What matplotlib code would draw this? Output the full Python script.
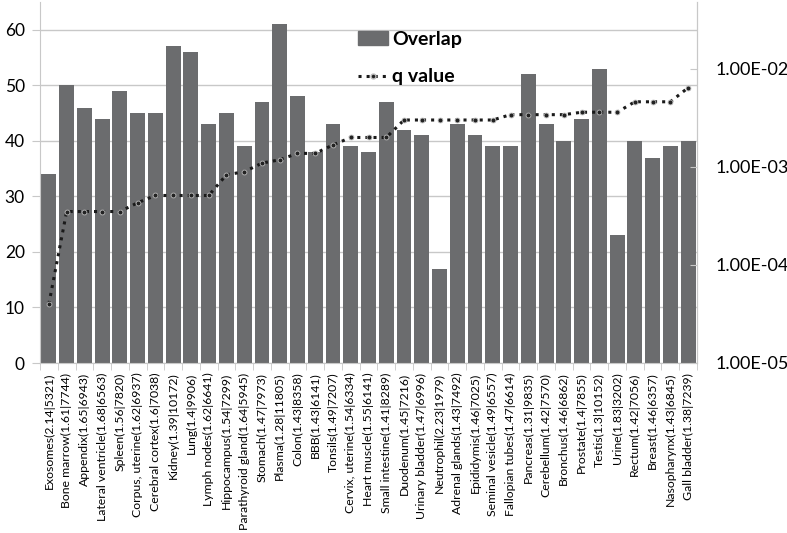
import numpy as np
import matplotlib
matplotlib.use("Agg")
import matplotlib.pyplot as plt
from matplotlib.lines import Line2D
from matplotlib.patches import Patch

plt.rcParams['font.family'] = ['Lato', 'DejaVu Sans']

# ===================== 数据 =====================
tissues = [
    "Exosomes(2.14|5321)", "Bone marrow(1.61|7744)", "Appendix(1.65|6943)",
    "Lateral ventricle(1.68|6563)", "Spleen(1.56|7820)", "Corpus, uterine(1.62|6937)",
    "Cerebral cortex(1.6|7038)", "Kidney(1.39|10172)", "Lung(1.4|9906)",
    "Lymph nodes(1.62|6641)", "Hippocampus(1.54|7299)", "Parathyroid gland(1.64|5945)",
    "Stomach(1.47|7973)", "Plasma(1.28|11805)", "Colon(1.43|8358)", "BBB(1.43|6141)",
    "Tonsils(1.49|7207)", "Cervix, uterine(1.54|6334)", "Heart muscle(1.55|6141)",
    "Small intestine(1.41|8289)", "Duodenum(1.45|7216)", "Urinary bladder(1.47|6996)",
    "Neutrophil(2.23|1979)", "Adrenal glands(1.43|7492)", "Epididymis(1.46|7025)",
    "Seminal vesicle(1.49|6557)", "Fallopian tubes(1.47|6614)", "Pancreas(1.31|9835)",
    "Cerebellum(1.42|7570)", "Bronchus(1.46|6862)", "Prostate(1.4|7855)",
    "Testis(1.3|10152)", "Urine(1.83|3202)", "Rectum(1.42|7056)", "Breast(1.46|6357)",
    "Nasopharynx(1.43|6845)", "Gall bladder(1.38|7239)",
]
overlap = [34, 50, 46, 44, 49, 45, 45, 57, 56, 43, 45, 39, 47, 61, 48, 38, 43, 39, 38,
           47, 42, 41, 17, 43, 41, 39, 39, 52, 43, 40, 44, 53, 23, 40, 37, 39, 40]
q_value = [4.0e-5, 3.5e-4, 3.5e-4, 3.5e-4, 3.5e-4, 4.3e-4, 5.1e-4, 5.1e-4, 5.1e-4,
           5.1e-4, 8.3e-4, 8.9e-4, 1.09e-3, 1.18e-3, 1.37e-3, 1.37e-3, 1.67e-3,
           1.99e-3, 1.99e-3, 1.99e-3, 3.0e-3, 3.0e-3, 3.0e-3, 3.0e-3, 3.0e-3, 3.0e-3,
           3.4e-3, 3.4e-3, 3.4e-3, 3.4e-3, 3.6e-3, 3.6e-3, 3.6e-3, 4.6e-3, 4.6e-3,
           4.6e-3, 6.4e-3]
right_ticks = [1e-5, 1e-4, 1e-3, 1e-2]
right_labels = ["1.00E-05", "1.00E-04", "1.00E-03", "1.00E-02"]

bar_col = '#6b6c6e'
grid_col = '#c8c8c8'

W, H = 787, 533
fig = plt.figure(figsize=(W / 100, H / 100), dpi=100)
ax = fig.add_axes([40 / W, (H - 363) / H, 657 / W, 361 / H])
x = np.arange(len(tissues))

# 网格线
ax.set_axisbelow(True)
ax.yaxis.grid(True, color=grid_col, linewidth=1)
ax.bar(x, overlap, width=0.84, color=bar_col, zorder=2)
ax.set_xlim(-0.5, len(tissues) - 0.5)
ax.set_ylim(0, 65)
ax.set_yticks(range(0, 70, 10))
ax.set_xticks(np.arange(len(tissues) + 1) - 0.5, minor=True)
ax.set_xticks(x)
ax.set_xticklabels(tissues, rotation=90, fontsize=8.8)
ax.tick_params(axis='x', which='major', length=0, pad=7)
ax.tick_params(axis='x', which='minor', length=5, color=grid_col)
ax.tick_params(axis='y', labelsize=12.5, length=6, color=grid_col, pad=5)
ax.spines['top'].set_visible(False)
for s in ['left', 'right', 'bottom']:
    ax.spines[s].set_color(grid_col)

# 右轴 q value
ax2 = ax.twinx()
ax2.set_yscale('log')
ax2.set_ylim(1e-5, 10 ** -1.32)
ax2.plot(x, q_value, linestyle=':', color='#1a1a1a', linewidth=2.2,
         marker='o', markersize=3.5, markerfacecolor='#222222',
         markeredgecolor='#bbbbbb', markeredgewidth=0.6, zorder=5)
ax2.set_yticks(right_ticks)
ax2.set_yticklabels(right_labels)
ax2.yaxis.set_minor_locator(matplotlib.ticker.NullLocator())
ax2.tick_params(axis='y', labelsize=13, direction='in', length=5, color=grid_col, pad=13)
for s in ['top', 'left', 'bottom']:
    ax2.spines[s].set_visible(False)
ax2.spines['right'].set_color(grid_col)

# 图例
handles = [Patch(color=bar_col),
           Line2D([], [], linestyle=':', color='#1a1a1a', linewidth=2.2, marker='o',
                  markersize=3.5, markerfacecolor='#222222', markeredgecolor='#bbbbbb')]
leg = fig.legend(handles, ['Overlap', 'q value'], loc='upper left',
                 bbox_to_anchor=(358 / W, 1 - 31 / H), frameon=False,
                 prop={'weight': 'bold', 'size': 14}, handlelength=1.55,
                 labelspacing=1.05, handletextpad=0.2, borderpad=0, borderaxespad=0)

fig.savefig('out.png', dpi=100)
